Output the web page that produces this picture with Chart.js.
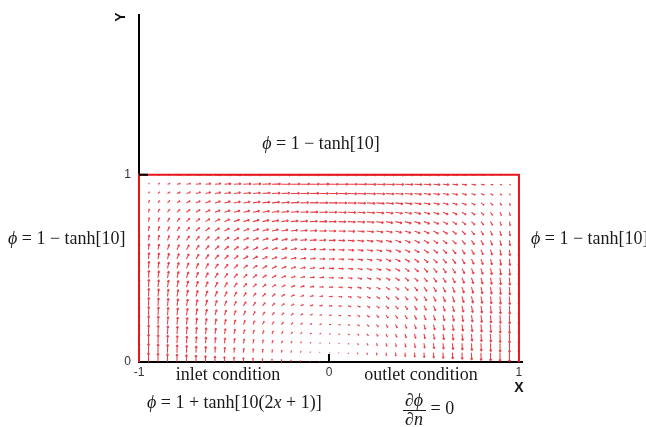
<!DOCTYPE html>
<html>
<head>
<meta charset="utf-8">
<script src="https://cdn.jsdelivr.net/npm/chart.js@4.4.1/dist/chart.umd.min.js"></script>
<style>
  html, body { margin: 0; padding: 0; background: #fff; }
  canvas { display: block; }
</style>
</head>
<body>
<canvas id="campo" width="646" height="427"></canvas>
<script>
// ================= DATOS =================
// posiciones de la malla de vectores
const gridX = [-1, -0.95, -0.9, -0.85, -0.8, -0.75, -0.7, -0.65, -0.6, -0.55, -0.5,
  -0.45, -0.4, -0.35, -0.3, -0.25, -0.2, -0.15, -0.1, -0.05, 0,
  0.05, 0.1, 0.15, 0.2, 0.25, 0.3, 0.35, 0.4, 0.45, 0.5,
  0.55, 0.6, 0.65, 0.7, 0.75, 0.8, 0.85, 0.9, 0.95, 1];
const gridY = [0, 0.05, 0.1, 0.15, 0.2, 0.25, 0.3, 0.35, 0.4, 0.45, 0.5,
  0.55, 0.6, 0.65, 0.7, 0.75, 0.8, 0.85, 0.9, 0.95, 1];

// perfiles de velocidad (campo separable): u = uRow * uCol, v = vCol * vRow
const uColumnProfile = [0, 0.0975, 0.19, 0.2775, 0.36, 0.4375, 0.51, 0.5775, 0.64, 0.6975, 0.75,
  0.7975, 0.84, 0.8775, 0.91, 0.9375, 0.96, 0.9775, 0.99, 0.9975, 1,
  0.9975, 0.99, 0.9775, 0.96, 0.9375, 0.91, 0.8775, 0.84, 0.7975, 0.75,
  0.6975, 0.64, 0.5775, 0.51, 0.4375, 0.36, 0.2775, 0.19, 0.0975, 0];
const uRowProfile = [0, 0.1, 0.2, 0.3, 0.4, 0.5, 0.6, 0.7, 0.8, 0.9, 1,
  1.1, 1.2, 1.3, 1.4, 1.5, 1.6, 1.7, 1.8, 1.9, 2];
const vColumnProfile = [2, 1.9, 1.8, 1.7, 1.6, 1.5, 1.4, 1.3, 1.2, 1.1, 1,
  0.9, 0.8, 0.7, 0.6, 0.5, 0.4, 0.3, 0.2, 0.1, 0,
  -0.1, -0.2, -0.3, -0.4, -0.5, -0.6, -0.7, -0.8, -0.9, -1,
  -1.1, -1.2, -1.3, -1.4, -1.5, -1.6, -1.7, -1.8, -1.9, -2];
const vRowProfile = [1, 0.9975, 0.99, 0.9775, 0.96, 0.9375, 0.91, 0.8775, 0.84, 0.7975, 0.75,
  0.6975, 0.64, 0.5775, 0.51, 0.4375, 0.36, 0.2775, 0.19, 0.0975, 0];

const xTicks = [-1, 0, 1];
const yTicks = [0, 1];

// contorno del dominio
const frameX = [-1, -1, 1, 1];
const frameY = [0, 1, 1, 0];

// ================= PUNTOS =================
const vectors = [];
gridY.forEach((y, j) => {
  gridX.forEach((x, i) => {
    vectors.push({
      x: x,
      y: y,
      u: uRowProfile[j] * uColumnProfile[i],
      v: vColumnProfile[i] * vRowProfile[j]
    });
  });
});

const SERIF = '"Liberation Serif", "Times New Roman", serif';
const SANS = '"Liberation Sans", Arial, sans-serif';
const VEC_SCALE = 0.0265; // longitud del vector en unidades de datos por unidad de velocidad

// ================= PLUGIN VECTORES =================
const vectorPlugin = {
  id: 'vectors',
  afterDatasetsDraw(chart) {
    const { ctx, scales: { x, y } } = chart;
    const meta = chart.getDatasetMeta(1);

    const left = x.getPixelForValue(-1);
    const right = x.getPixelForValue(1);
    const top = y.getPixelForValue(1);
    const bottom = y.getPixelForValue(0);

    ctx.save();
    ctx.beginPath();
    ctx.rect(left, top, right - left, bottom - top);
    ctx.clip();
    ctx.strokeStyle = 'rgba(230, 30, 40, 0.85)';
    ctx.lineWidth = 1.1;

    meta.data.forEach((pt, k) => {
      const d = vectors[k];
      const x0 = pt.x, y0 = pt.y;
      const x1 = x.getPixelForValue(d.x + d.u * VEC_SCALE);
      const y1 = y.getPixelForValue(d.y + d.v * VEC_SCALE);
      const dx = x1 - x0, dy = y1 - y0;
      const len = Math.hypot(dx, dy);
      if (len < 0.4) return;

      const h = Math.min(2.2, len * 0.35);
      const a = Math.atan2(dy, dx);
      ctx.beginPath();
      ctx.moveTo(x0, y0);
      ctx.lineTo(x1, y1);
      ctx.moveTo(x1, y1);
      ctx.lineTo(x1 - h * Math.cos(a - 0.5), y1 - h * Math.sin(a - 0.5));
      ctx.moveTo(x1, y1);
      ctx.lineTo(x1 - h * Math.cos(a + 0.5), y1 - h * Math.sin(a + 0.5));
      ctx.stroke();
    });
    ctx.restore();
  }
};

// ================= TEXTO CON CURSIVAS =================
function richText(ctx, parts, px, py, align) {
  const fontOf = it => (it ? 'italic ' : '') + '18px ' + SERIF;
  let w = 0;
  parts.forEach(([t, it]) => { ctx.font = fontOf(it); w += ctx.measureText(t).width; });
  let cx = align === 'center' ? px - w / 2 : align === 'right' ? px - w : px;
  ctx.textAlign = 'left';
  ctx.textBaseline = 'middle';
  parts.forEach(([t, it]) => {
    ctx.font = fontOf(it);
    ctx.fillText(t, cx, py);
    cx += ctx.measureText(t).width;
  });
}

const phiBoundary = [['ϕ', true], [' = 1 − tanh[10]', false]];

// ================= PLUGIN ANOTACIONES =================
const labelPlugin = {
  id: 'labels',
  afterDraw(chart) {
    const { ctx, scales: { x, y } } = chart;
    ctx.save();

    // marcas interiores en y = 1 y x = 0
    ctx.strokeStyle = '#000';
    ctx.lineWidth = 2;
    ctx.beginPath();
    ctx.moveTo(x.getPixelForValue(-1), y.getPixelForValue(1));
    ctx.lineTo(x.getPixelForValue(-1) + 9, y.getPixelForValue(1));
    ctx.moveTo(x.getPixelForValue(0), y.getPixelForValue(0));
    ctx.lineTo(x.getPixelForValue(0), y.getPixelForValue(0) - 8);
    ctx.stroke();

    // titulos de ejes
    ctx.fillStyle = '#111';
    ctx.font = 'bold 14px ' + SANS;
    ctx.textAlign = 'center';
    ctx.textBaseline = 'middle';
    ctx.fillText('X', 519, 388);
    ctx.save();
    ctx.translate(121, 17);
    ctx.rotate(-Math.PI / 2);
    ctx.fillText('Y', 0, 0);
    ctx.restore();

    // condiciones de frontera
    ctx.fillStyle = '#1a1a1a';
    richText(ctx, phiBoundary, 321, 144, 'center');
    richText(ctx, phiBoundary, 8, 239, 'left');
    richText(ctx, phiBoundary, 531, 239, 'left');
    richText(ctx, [['inlet condition', false]], 228, 375, 'center');
    richText(ctx, [['outlet condition', false]], 421, 375, 'center');
    richText(ctx, [['ϕ', true], [' = 1 + tanh[10(2', false], ['x', true], [' + 1)]', false]], 147, 403, 'left');

    // fraccion d(phi)/dn = 0
    richText(ctx, [['∂', false], ['ϕ', true]], 414, 401, 'center');
    ctx.strokeStyle = '#1a1a1a';
    ctx.lineWidth = 1;
    ctx.beginPath();
    ctx.moveTo(403, 410.5);
    ctx.lineTo(426, 410.5);
    ctx.stroke();
    richText(ctx, [['∂', false], ['n', true]], 414, 420, 'center');
    richText(ctx, [[' = 0', false]], 426, 409, 'left');

    ctx.restore();
  }
};

// ================= CHART =================
const ctx = document.getElementById('campo').getContext('2d');

new Chart(ctx, {
  type: 'scatter',
  data: {
    datasets: [
      {
        label: 'frontera',
        data: frameX.map((fx, i) => ({ x: fx, y: frameY[i] })),
        showLine: true,
        borderColor: '#e8141c',
        borderWidth: 2,
        pointRadius: 0,
        fill: false,
        clip: false
      },
      {
        label: 'velocidad',
        data: vectors.map(d => ({ x: d.x, y: d.y })),
        pointRadius: 0,
        showLine: false
      }
    ]
  },
  plugins: [vectorPlugin, labelPlugin],
  options: {
    responsive: false,
    animation: false,
    devicePixelRatio: 1,
    events: [],
    layout: { padding: { left: 0, top: 10, right: 124, bottom: 0 } },
    plugins: {
      legend: { display: false },
      tooltip: { enabled: false }
    },
    scales: {
      x: {
        type: 'linear',
        min: -1,
        max: 1.016,
        z: 1,
        afterBuildTicks: s => { s.ticks = xTicks.map(v => ({ value: v })); },
        afterFit: s => { s.height = 65; },
        grid: { display: false, drawTicks: false },
        border: { display: true, color: '#000', width: 2 },
        ticks: {
          color: '#333',
          padding: 3,
          maxRotation: 0,
          font: { family: SANS, size: 12 },
          callback: v => String(v)
        }
      },
      y: {
        type: 'linear',
        min: 0,
        max: 1.853,
        z: 1,
        afterBuildTicks: s => { s.ticks = yTicks.map(v => ({ value: v })); },
        afterFit: s => { s.width = 139; },
        grid: { display: false, drawTicks: false },
        border: { display: true, color: '#000', width: 2 },
        ticks: {
          color: '#333',
          padding: 8,
          font: { family: SANS, size: 12 },
          callback: v => String(v)
        }
      }
    }
  }
});
</script>
</body>
</html>
